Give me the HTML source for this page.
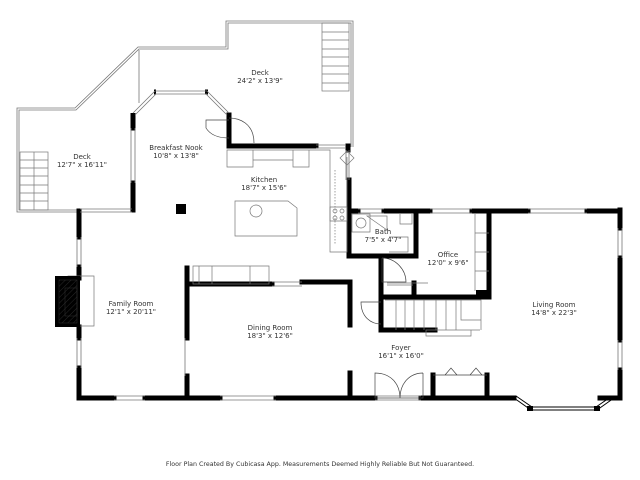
<!DOCTYPE html>
<html><head><meta charset="utf-8"><style>
html,body{margin:0;padding:0;background:#fff;width:640px;height:480px;overflow:hidden}
text{font-family:"DejaVu Sans","Liberation Sans",sans-serif;font-size:7px;fill:#333;text-anchor:middle}
</style></head><body>
<svg width="640" height="480" viewBox="0 0 640 480" xmlns="http://www.w3.org/2000/svg">
<defs><pattern id="h" width="4" height="4" patternUnits="userSpaceOnUse" patternTransform="rotate(45)"><line x1="0" y1="0" x2="0" y2="4" stroke="#333" stroke-width="0.8"/></pattern></defs>
<!-- deck outlines (double lines) -->
<g fill="none" stroke="#777" stroke-width="0.8">
<polyline points="80,210 19,210 19,110 76,110 139,49 228,49 228,23 351,23 351,147"/>
<polyline points="80,212 17,212 17,108 75,108 138,47 226,47 226,21 353,21 353,147"/>
<line x1="139" y1="50" x2="139" y2="103"/>
</g>
<!-- deck stairs -->
<g fill="none" stroke="#777" stroke-width="0.7">
<rect x="322" y="23" width="27" height="68"/>
<path d="M322,32h27M322,40h27M322,49h27M322,57h27M322,66h27M322,74h27M322,83h27"/>
<rect x="20" y="152" width="28" height="58"/>
<path d="M20,160h28M20,168h28M20,176h28M20,185h28M20,193h28M20,201h28M34,152v58"/>
</g>
<!-- thick walls -->
<g stroke="#000" stroke-width="5" fill="none" stroke-linecap="square">
<line x1="133" y1="116" x2="133" y2="128"/>
<line x1="133" y1="183" x2="133" y2="210"/>
<line x1="79" y1="211" x2="79" y2="237"/>
<line x1="79" y1="267" x2="79" y2="278"/>
<line x1="79" y1="327" x2="79" y2="338"/>
<line x1="79" y1="368" x2="79" y2="398"/>
<line x1="79" y1="398" x2="114" y2="398"/>
<line x1="145" y1="398" x2="220" y2="398"/>
<line x1="276" y1="398" x2="375" y2="398"/>
<line x1="421" y1="398" x2="514" y2="398"/>
<line x1="600" y1="398" x2="620" y2="398"/>
<line x1="620" y1="210" x2="620" y2="228"/>
<line x1="620" y1="258" x2="620" y2="340"/>
<line x1="620" y1="370" x2="620" y2="398"/>
<line x1="229" y1="115" x2="229" y2="146"/>
<line x1="229" y1="146" x2="316" y2="146"/>
<line x1="348" y1="146" x2="348" y2="150"/>
<line x1="349" y1="180" x2="349" y2="256"/>
<line x1="349" y1="211" x2="358" y2="211"/>
<line x1="384" y1="211" x2="430" y2="211"/>
<line x1="472" y1="211" x2="528" y2="211"/>
<line x1="587" y1="211" x2="620" y2="211"/>
<line x1="349" y1="256" x2="416" y2="256"/>
<line x1="416" y1="211" x2="416" y2="256"/>
<line x1="489" y1="211" x2="489" y2="297"/>
<line x1="381" y1="256" x2="381" y2="330"/>
<line x1="381" y1="297" x2="489" y2="297"/>
<line x1="381" y1="330" x2="435" y2="330"/>
<line x1="414" y1="283" x2="414" y2="297"/>
<line x1="187" y1="268" x2="187" y2="338"/>
<line x1="187" y1="376" x2="187" y2="398"/>
<line x1="187" y1="284" x2="272" y2="284"/>
<line x1="302" y1="282" x2="350" y2="282"/>
<line x1="350" y1="282" x2="350" y2="325"/>
<line x1="350" y1="373" x2="350" y2="398"/>
<line x1="433" y1="375" x2="433" y2="398"/>
<line x1="487" y1="375" x2="487" y2="398"/>
</g>
<rect x="476" y="290" width="13" height="8" fill="#000"/>
<rect x="176" y="204" width="10" height="10" fill="#000"/>
<!-- nook octagon -->
<g stroke="#000" stroke-width="5" fill="none"><line x1="154" y1="92" x2="156" y2="92"/><line x1="205" y1="92" x2="208" y2="92"/><line x1="229" y1="113" x2="229" y2="118"/><line x1="133" y1="113" x2="133" y2="116"/></g>
<g stroke="#777" stroke-width="0.8" fill="none">
<path d="M155,91L133,113M156,94L135,115M155,91h52M155,94h52M207,91l22,22M206,94l21,21"/>
<path d="M131,128v55M135,128v55"/>
<path d="M316,145h30M316,148h30"/>
<path d="M77,237v30M81,237v30M77,338v30M81,338v30"/>
<path d="M114,396h31M114,400h31M220,396h56M220,400h56M375,396h46M375,400h46"/>
<path d="M349,150v30M346,150v30"/>
<path d="M358,209h26M358,213h26M430,209h42M430,213h42M528,209h59M528,213h59"/>
<path d="M618,228v30M622,228v30M618,340v30M622,370v0M622,340v30"/>
<path d="M80,209h52M80,212h52"/>
<path d="M185,338v38M272,282h30M272,286h30"/>
</g>
<!-- bay window -->
<g stroke="#000" stroke-width="1" fill="none"><path d="M514,398l17,12h66l17,-12M516,396l16,11h64l16,-11"/></g>
<rect x="527" y="406" width="6" height="5" fill="#000"/><rect x="594" y="406" width="6" height="5" fill="#000"/>
<!-- door arcs -->
<g stroke="#444" stroke-width="0.7" fill="none">
<path d="M229,120h-23v8c5,8,15,10,23,10"/>
<path d="M229,118c10,0,25,5,25,25"/>
<path d="M382,258v24h24c0,-12,-10,-24,-24,-24"/>
<path d="M381,302h-20v0c0,15,10,22,20,22"/>
<path d="M375,373v25h25c0,-15,-10,-25,-25,-25zM423,373v25h-23c0,-15,10,-25,23,-25"/>
<path d="M433,375h54M445,375l6,-7l6,7M470,375l6,-7l6,7"/>
</g>
<!-- kitchen fixtures -->
<g stroke="#777" stroke-width="0.7" fill="none">
<path d="M227,150h26v17h-26zM253,150h40v10h-40zM293,150h16v17h-16zM309,150h21v7"/>
<path d="M330,157v95h17v-95"/>
<path d="M335,170v75" stroke-dasharray="1.5,1.5"/>
<path d="M330,207h17v14h-17z"/>
<circle cx="335" cy="211" r="2"/><circle cx="342" cy="211" r="2"/><circle cx="335" cy="218" r="2"/><circle cx="342" cy="218" r="2"/>
<path d="M340,158l7,-7l7,7l-7,7z"/>
<path d="M235,201h53l9,7v28h-62z"/>
<circle cx="256" cy="211" r="6"/>
<path d="M193,266h76v18h-76zM199,266v18M212,266v18M250,266v18"/>
<path d="M68,276h26v50h-26z"/>
<path d="M352,214h18v18h-18zM367,216h20v14zM400,214l0,10h12v-10M389,237h19v15h-19"/>
<circle cx="361" cy="223" r="5"/>
<path d="M475,214v77M475,233h14M475,252h14M475,271h14"/>
<path d="M385,300h96v30M396,300v30M405,300v30M414,300v30M424,300v30M436,300v30M446,300v30M456,300v30M435,330h45M461,300v20h20M426,330h45v6h-45z"/>
<path d="M387,283h41M387,285h26"/>
</g>
<rect x="55" y="276" width="25" height="51" fill="#000"/>
<rect x="59" y="280" width="18" height="43" fill="url(#h)" stroke="#333" stroke-width="0.5"/>
<rect x="65" y="288" width="12" height="28" fill="none" stroke="#333" stroke-width="0.5"/>
<!-- labels -->
<text x="260" y="75">Deck</text><text x="260" y="83">24'2" x 13'9"</text>
<text x="82" y="159">Deck</text><text x="82" y="167">12'7" x 16'11"</text>
<text x="176" y="150">Breakfast Nook</text><text x="176" y="158">10'8" x 13'8"</text>
<text x="264" y="182">Kitchen</text><text x="264" y="190">18'7" x 15'6"</text>
<text x="383" y="234">Bath</text><text x="383" y="242">7'5" x 4'7"</text>
<text x="448" y="257">Office</text><text x="448" y="265">12'0" x 9'6"</text>
<text x="554" y="307">Living Room</text><text x="554" y="315">14'8" x 22'3"</text>
<text x="131" y="306">Family Room</text><text x="131" y="314">12'1" x 20'11"</text>
<text x="270" y="330">Dining Room</text><text x="270" y="338">18'3" x 12'6"</text>
<text x="401" y="350">Foyer</text><text x="401" y="358">16'1" x 16'0"</text>
<text x="320" y="466" style="font-size:6.3px">Floor Plan Created By Cubicasa App. Measurements Deemed Highly Reliable But Not Guaranteed.</text>
</svg>
</body></html>
